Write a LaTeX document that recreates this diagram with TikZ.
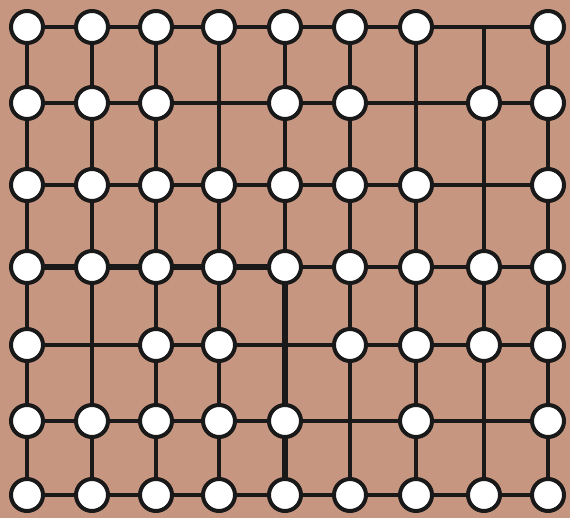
\documentclass[tikz,border=0pt]{standalone}
\usetikzlibrary{calc}
\definecolor{bgbrown}{RGB}{198,150,128}
\begin{document}
\begin{tikzpicture}[x=1pt,y=-1pt,
  dot/.style={circle,draw=black!90,fill=white,line width=4pt,minimum size=32pt,inner sep=0pt},
  wire/.style={line width=3.2pt,black!90},
  thickwire/.style={line width=6pt,black!90,line join=round}]
%背景
\fill[bgbrown](0,0)rectangle(570,518);
\useasboundingbox(0,0)rectangle(570,518);

%格子点
\foreach \c/\x in {0/27,1/92,2/156,3/219,4/285,5/350,6/416,7/484,8/548}
  \foreach \r/\y in {0/27,1/103,2/185,3/267,4/345,5/421,6/495}
    \coordinate(g-\c-\r)at(\x,\y);

%横線
\foreach \r in {0,...,6} \draw[wire](g-0-\r)to(g-8-\r);
%縦線
\foreach \c in {0,...,8} \draw[wire](g-\c-0)to(g-\c-6);
%太線
\draw[thickwire](g-0-3)to(g-4-3)to(g-4-6);

%丸
\foreach \c/\r in {0/0,1/0,2/0,3/0,4/0,5/0,6/0,8/0,
                   0/1,1/1,2/1,4/1,5/1,7/1,8/1,
                   0/2,1/2,2/2,3/2,4/2,5/2,6/2,8/2,
                   0/3,1/3,2/3,3/3,4/3,5/3,6/3,7/3,8/3,
                   0/4,2/4,3/4,5/4,6/4,7/4,8/4,
                   0/5,1/5,2/5,3/5,4/5,6/5,8/5,
                   0/6,1/6,2/6,3/6,4/6,5/6,6/6,7/6,8/6}
  \node[dot](v-\c-\r)at(g-\c-\r){};
\end{tikzpicture}
\end{document}
